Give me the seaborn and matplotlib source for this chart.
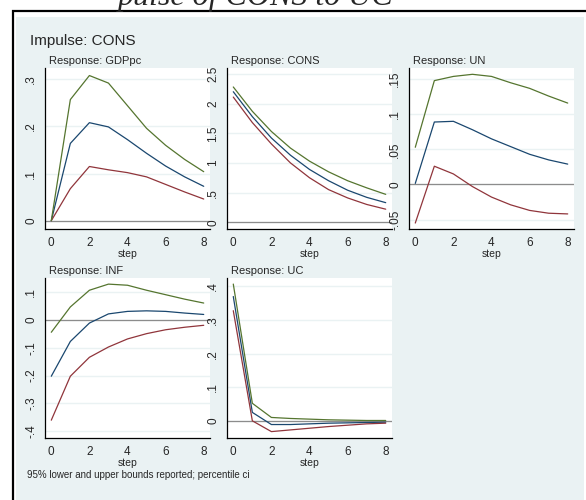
import numpy as np
import pandas as pd
import matplotlib
matplotlib.use("Agg")
import matplotlib.pyplot as plt
import seaborn as sns
from matplotlib.patches import Rectangle

# ------------------- Data ------------------------------------------- #
steps = [0, 1, 2, 3, 4, 5, 6, 7, 8]

gdp_irf = [0, .164, .208, .199, .172, .143, .116, .093, .073]
gdp_lo = [0, .068, .115, .108, .102, .093, .077, .061, .046]
gdp_hi = [0, .257, .308, .292, .244, .196, .160, .130, .104]

cons_irf = [2.20, 1.78, 1.42, 1.13, .89, .70, .54, .42, .33]
cons_lo = [2.11, 1.68, 1.32, 1.00, .75, .55, .41, .30, .22]
cons_hi = [2.28, 1.87, 1.53, 1.25, 1.03, .85, .70, .58, .47]

un_irf = [.0015, .089, .090, .078, .065, .054, .043, .035, .029]
un_lo = [-.055, .026, .015, -.003, -.018, -.029, -.037, -.041, -.042]
un_hi = [.053, .148, .154, .157, .154, .145, .137, .126, .116]

inf_irf = [-.202, -.077, -.011, .022, .031, .033, .031, .025, .020]
inf_lo = [-.360, -.202, -.134, -.097, -.068, -.049, -.035, -.026, -.019]
inf_hi = [-.044, .047, .107, .129, .125, .107, .091, .075, .061]

uc_irf = [.370, .026, -.010, -.010, -.008, -.006, -.005, -.004, -.003]
uc_lo = [.328, .001, -.031, -.026, -.021, -.016, -.012, -.008, -.006]
uc_hi = [.407, .053, .011, .008, .006, .004, .003, .002, .002]

panel_names = ["GDPpc", "CONS", "UN", "INF", "UC"]
panel_series = [
    (gdp_irf, gdp_lo, gdp_hi),
    (cons_irf, cons_lo, cons_hi),
    (un_irf, un_lo, un_hi),
    (inf_irf, inf_lo, inf_hi),
    (uc_irf, uc_lo, uc_hi),
]
panel_yticks = [
    [0, .1, .2, .3],
    [0, .5, 1, 1.5, 2, 2.5],
    [-.05, 0, .05, .1, .15],
    [-.4, -.3, -.2, -.1, 0, .1],
    [0, .1, .2, .3, .4],
]
panel_yticklabels = [
    ["0", ".1", ".2", ".3"],
    ["0", ".5", "1", "1.5", "2", "2.5"],
    ["-.05", "0", ".05", ".1", ".15"],
    ["-.4", "-.3", "-.2", "-.1", "0", ".1"],
    ["0", ".1", ".2", ".3", ".4"],
]
panel_ylims = [(-.0176, .324), (-.114, 2.6), (-.0635, .166), (-.424, .151), (-.05, .425)]

# ------------------- Style -------------------- #
sns.set_style("white")
plt.rcParams["font.family"] = ["Liberation Sans", "DejaVu Sans"]

bg = "#EAF2F3"
colors = {"irf": "#1a476f", "lower": "#90353b", "upper": "#55752f"}

W, H = 586, 500
fig = plt.figure(figsize=(W / 100, H / 100), dpi=100)

# cropped page title and frame
fig.text(118 / W, 1 - 5 / H, "pulse of CONS to UC", fontsize=23, style="italic",
         family="Liberation Serif", va="baseline", ha="left")
fig.patches.append(Rectangle((16 / W, -0.01), 568 / W, 1 - 17 / H + 0.01,
                             transform=fig.transFigure, facecolor=bg, edgecolor="none", zorder=-5))
fig.patches.append(Rectangle((13 / W, -0.05), 1.2, 1 - 11 / H + 0.05,
                             transform=fig.transFigure, facecolor="none", edgecolor="black",
                             linewidth=1.6, zorder=-4))

fig.text(30 / W, 1 - 41 / H, "Impulse: CONS", fontsize=11, va="center", ha="left")
fig.text(27 / W, 1 - 475 / H, "95% lower and upper bounds reported; percentile ci",
         fontsize=7, va="center", ha="left")

lefts = [45, 227, 409]
rows = [(68, 229), (278, 438)]
pw = 165

for i, name in enumerate(panel_names):
    r, c = divmod(i, 3)
    top, bot = rows[r]
    ax = fig.add_axes([lefts[c] / W, 1 - bot / H, pw / W, (bot - top) / H])
    ax.set_facecolor("white")

    irf, lo, hi = panel_series[i]
    df = pd.DataFrame({
        "step": steps * 3,
        "value": list(irf) + list(lo) + list(hi),
        "series": ["irf"] * 9 + ["lower"] * 9 + ["upper"] * 9,
    })
    for t in panel_yticks[i]:
        ax.axhline(t, color=bg, lw=1.0, zorder=0)
    ax.axhline(0, color="#8c8c8c", lw=0.9, zorder=1)
    sns.lineplot(data=df, x="step", y="value", hue="series", palette=colors,
                 linewidth=0.9, legend=False, ax=ax, zorder=2)

    ax.set_xlim(-0.33, 8.33)
    ax.set_ylim(*panel_ylims[i])
    ax.set_xticks([0, 2, 4, 6, 8])
    ax.set_xticklabels(["0", "2", "4", "6", "8"], fontsize=8.5)
    ax.set_yticks(panel_yticks[i])
    ax.set_yticklabels(panel_yticklabels[i], rotation=90, va="center", fontsize=8.5)
    ax.tick_params(direction="out", length=3.5, width=0.8, color="black", pad=2)
    ax.set_xlabel("step", fontsize=7.5, labelpad=0)
    ax.set_ylabel("")
    for s in ["top", "right"]:
        ax.spines[s].set_visible(False)
    for s in ["left", "bottom"]:
        ax.spines[s].set_color("black")
        ax.spines[s].set_linewidth(0.9)
    ax.text(0.025, 1 + 3.5 / (bot - top), "Response: " + name, transform=ax.transAxes,
            fontsize=8, va="baseline", ha="left")

fig.savefig("out.png", dpi=100)
